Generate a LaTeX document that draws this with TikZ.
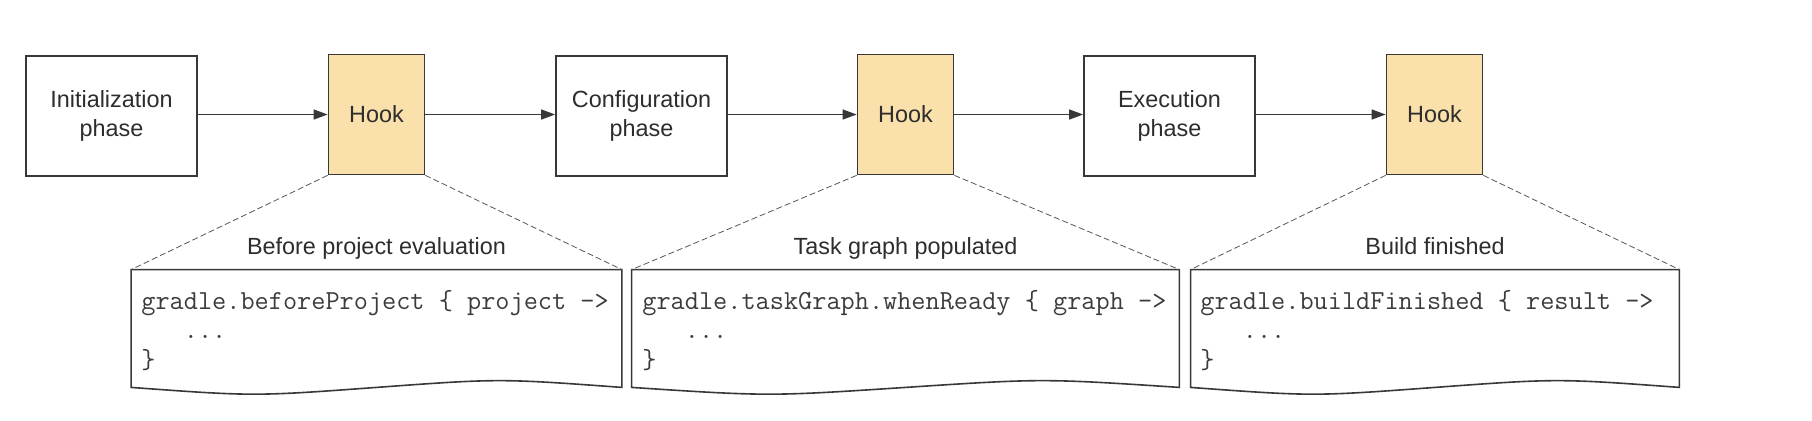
\documentclass[tikz,border=0pt]{standalone}
\usepackage{fontspec}
\setmainfont{Liberation Sans}
\usetikzlibrary{arrows.meta}

\definecolor{hookfill}{RGB}{250,224,170}
\definecolor{linegray}{RGB}{56,56,56}
\definecolor{textgray}{RGB}{45,45,45}
\definecolor{codegray}{RGB}{60,60,60}

% page outline with a wavy bottom edge
\newcommand{\docoutline}[2]{%
  \draw[docline] (#1.north west) -- (#1.north east) -- (#1.south east)
    .. controls +(-#2/4,-9) .. (#1.south)
    .. controls +(-#2/4,9) .. (#1.south west) -- cycle;}

\begin{document}
\begin{tikzpicture}[x=0.5pt,y=-0.5pt]
\tikzstyle{phase}=[rectangle,draw=linegray,line width=0.85pt,minimum width=85.5pt,minimum height=60pt,inner sep=0pt,align=center,text=textgray,font=\fontsize{11.7pt}{14.4pt}\selectfont]
\tikzstyle{hook}=[phase,fill=hookfill,minimum width=48pt]
\tikzstyle{doc}=[rectangle,minimum height=58.5pt,inner sep=0pt]
\tikzstyle{docline}=[draw=linegray,line width=0.8pt]
\tikzstyle{code}=[anchor=base west,align=left,inner sep=0pt,text=codegray,font=\ttfamily\fontsize{13.75pt}{14.7pt}\selectfont]
\tikzstyle{caption}=[anchor=base,inner sep=0pt,text=textgray,font=\fontsize{11.7pt}{14pt}\selectfont]
\tikzstyle{flow}=[-{Triangle[length=7pt,width=5pt]},draw=linegray,line width=0.65pt]
\tikzstyle{zoomline}=[draw=linegray!85,line width=0.4pt,dash pattern=on 3pt off 1.5pt]

\useasboundingbox (0,0) rectangle (1812,420);

%phases and hooks.
\node[phase] (init) at (111.5,116) {Initialization\\phase};
\node[hook] (hook_init) at (376.5,114.5) {Hook};
\node[phase] (config) at (641.5,116) {Configuration\\phase};
\node[hook] (hook_config) at (905.5,114.5) {Hook};
\node[phase] (exec) at (1169.5,116) {Execution\\phase};
\node[hook] (hook_exec) at (1434.5,114.5) {Hook};

\draw[flow] (init.east |- hook_init) -- (hook_init);
\draw[flow] (hook_init) -- (config.west |- hook_init);
\draw[flow] (config.east |- hook_config) -- (hook_config);
\draw[flow] (hook_config) -- (exec.west |- hook_config);
\draw[flow] (exec.east |- hook_exec) -- (hook_exec);

%code pages.
\node[doc,minimum width=245pt] (before_project) at (376.5,328.5) {};
\node[doc,minimum width=273.5pt] (task_graph) at (905.5,328.5) {};
\node[doc,minimum width=244pt] (build_finished) at (1435,328.5) {};
\docoutline{before_project}{490}
\docoutline{task_graph}{547}
\docoutline{build_finished}{488}

\node[caption] (before_project_label) at (376.5,254) {Before project evaluation};
\node[caption] (task_graph_label) at (905.5,254) {Task graph populated};
\node[caption] (build_finished_label) at (1435,254) {Build finished};

\node[code] (before_project_code) at (141,368) {gradle.beforeProject \{ project ->\\\ \ \ ...\\\}};
\node[code] (task_graph_code) at (642,368) {gradle.taskGraph.whenReady \{ graph ->\\\ \ \ ...\\\}};
\node[code] (build_finished_code) at (1200,368) {gradle.buildFinished \{ result ->\\\ \ \ ...\\\}};

\draw[zoomline] (hook_init.south west) -- (before_project.north west);
\draw[zoomline] (hook_init.south east) -- (before_project.north east);
\draw[zoomline] (hook_config.south west) -- (task_graph.north west);
\draw[zoomline] (hook_config.south east) -- (task_graph.north east);
\draw[zoomline] (hook_exec.south west) -- (build_finished.north west);
\draw[zoomline] (hook_exec.south east) -- (build_finished.north east);

\end{tikzpicture}
\end{document}
